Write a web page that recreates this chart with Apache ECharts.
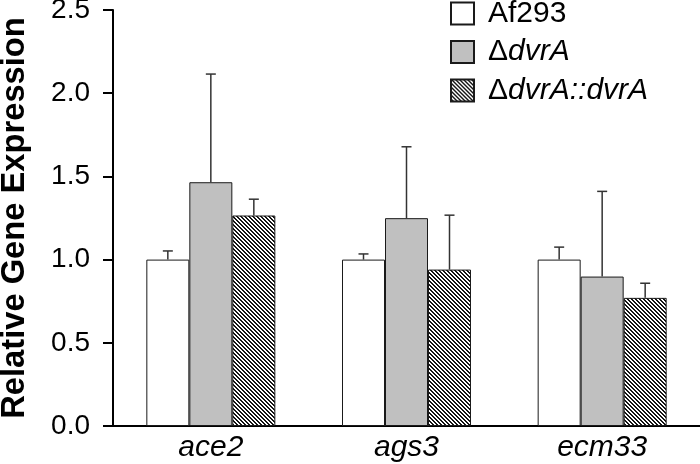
<!DOCTYPE html>
<html>
<head>
<meta charset="utf-8">
<script src="https://cdn.jsdelivr.net/npm/echarts@6/dist/echarts.min.js"></script>
<style>html,body{margin:0;padding:0;background:#fff}#c{width:700px;height:464px}</style>
</head>
<body>
<div id="c"></div>
<script>
const categories = ['ace2', 'ags3', 'ecm33'];
const seriesNames = ['Af293', 'ΔdvrA', 'ΔdvrA::dvrA'];
const af293 = [1.0, 1.0, 1.0];
const af293Err = [0.052, 0.034, 0.075];
const dvrA = [1.465, 1.249, 0.898];
const dvrAErr = [0.65, 0.429, 0.512];
const comp = [1.265, 0.940, 0.770];
const compErr = [0.098, 0.327, 0.088];
const yTicks = [0, 0.5, 1.0, 1.5, 2.0, 2.5];

const BAR_W = 43;
const FONT = '"Liberation Sans", Arial, sans-serif';

// hatch pattern
const pc = document.createElement('canvas');
pc.width = 4; pc.height = 4;
const pctx = pc.getContext('2d');
const img = pctx.createImageData(4, 4);
for (let y = 0; y < 4; y++) for (let x = 0; x < 4; x++) {
  const k = ((x - y) % 4 + 4) % 4;
  const v = (k === 0 || k === 1) ? 20 : 255;
  const i = (y * 4 + x) * 4;
  img.data[i] = v; img.data[i+1] = v; img.data[i+2] = v; img.data[i+3] = 255;
}
pctx.putImageData(img, 0, 0);
const hatch = { image: pc, repeat: 'repeat' };

const values = [af293, dvrA, comp];
const errs = [af293Err, dvrAErr, compErr];
const fills = ['#ffffff', '#c0c0c0', hatch];

const chart = echarts.init(document.getElementById('c'), null, { renderer: 'canvas' });

const barSeries = values.map((vals, s) => ({
  name: seriesNames[s],
  type: 'bar',
  data: vals,
  barWidth: BAR_W,
  barGap: '0%',
  itemStyle: { color: fills[s], borderColor: '#1a1a1a', borderWidth: 1 },
  emphasis: { disabled: true },
  silent: true,
  z: 2
}));

const errSeries = values.map((vals, s) => ({
  type: 'custom',
  silent: true,
  z: 3,
  data: vals.map((v, i) => [i, v, v + errs[s][i]]),
  renderItem: function (params, api) {
    const i = api.value(0);
    const p0 = api.coord([i, api.value(1)]);
    const p1 = api.coord([i, api.value(2)]);
    const x = p0[0] + (s - 1) * BAR_W;
    return {
      type: 'group',
      children: [
        { type: 'line', shape: { x1: x, y1: p0[1], x2: x, y2: p1[1] }, style: { stroke: '#333', lineWidth: 1.5 } },
        { type: 'line', shape: { x1: x - 5, y1: p1[1], x2: x + 5, y2: p1[1] }, style: { stroke: '#333', lineWidth: 1.5 } }
      ]
    };
  }
}));

chart.setOption({
  animation: false,
  backgroundColor: '#fff',
  grid: { left: 113, right: 0, top: 10, bottom: 38, containLabel: false, outerBoundsMode: 'none' },
  legend: {
    orient: 'vertical',
    left: 450,
    top: -1.5,
    padding: 0,
    itemWidth: 23,
    itemHeight: 22,
    itemGap: 8.5,
    selectedMode: false,
    data: seriesNames.map((n) => ({ name: n, icon: 'rect' })),
    formatter: function (name) {
      if (name === 'Af293') return '{n|Af293}';
      return '{n|Δ}{i|' + name.slice(1) + '}';
    },
    textStyle: {
      rich: {
        n: { fontFamily: FONT, fontSize: 30, lineHeight: 22, color: '#000', padding: [0, 0, 0, 9] },
        i: { fontFamily: FONT, fontSize: 30, lineHeight: 22, fontStyle: 'italic', color: '#000' }
      }
    }
  },
  xAxis: {
    type: 'category',
    data: categories,
    axisLine: { lineStyle: { color: '#000', width: 2 } },
    axisTick: { show: false },
    axisLabel: { fontFamily: FONT, fontSize: 30, fontStyle: 'italic', color: '#000', margin: 7 }
  },
  yAxis: {
    type: 'value',
    min: 0,
    max: 2.5,
    interval: 0.5,
    name: 'Relative Gene Expression',
    nameLocation: 'middle',
    nameGap: 82,
    nameTextStyle: { fontFamily: FONT, fontSize: 32.7, fontWeight: 'bold', color: '#000' },
    axisLine: { show: true, lineStyle: { color: '#000', width: 2 } },
    axisTick: { show: true, length: 10, lineStyle: { color: '#000', width: 2 } },
    splitLine: { show: false },
    axisLabel: {
      fontFamily: FONT, fontSize: 28, color: '#000', margin: 23,
      formatter: (v) => yTicks.includes(v) ? v.toFixed(1) : ''
    }
  },
  series: barSeries.concat(errSeries)
});
</script>
</body>
</html>
